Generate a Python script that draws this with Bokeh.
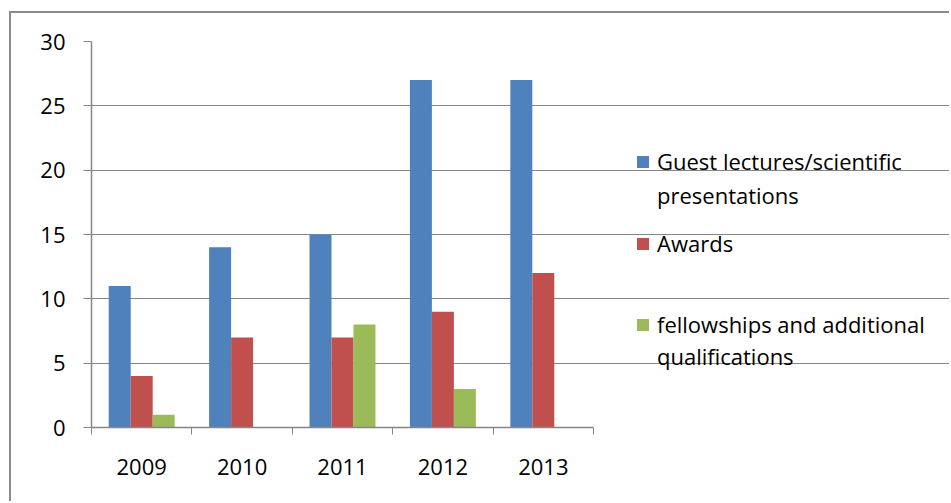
import numpy as np
from bokeh.plotting import figure
from bokeh.models import (Range1d, LinearAxis, FixedTicker, Legend, LegendItem,
                          ColumnDataSource)
from bokeh.transform import dodge
from bokeh.embed import file_html
from bokeh.resources import INLINE

years = ["2009", "2010", "2011", "2012", "2013"]
guest = [11, 14, 15, 27, 27]
awards = [4, 7, 7, 9, 12]
fellow = [1, 0, 8, 3, 0]
series_lines = [["Guest lectures/scientific", "presentations"], ["Awards"],
                ["fellowships and additional", "qualifications"]]
colors = ["#4F81BD", "#C0504D", "#9BBB59"]
y_ticks = [0, 5, 10, 15, 20, 25, 30]

FONT = "Open Sans"
FS = "22px"
GRAY = "#868686"

n = len(years)
centers = (np.arange(n) + 0.5).tolist()
src = ColumnDataSource(dict(xc=centers, guest=guest, awards=awards, fellow=fellow))

# the frame also spans the legend area; axes and grid are bounded to the category span
PLOT_W, FRAME_W = 502, 858
p = figure(frame_width=FRAME_W, frame_height=386, x_range=Range1d(0, n * FRAME_W / PLOT_W),
           y_range=Range1d(0, 30), output_backend="svg", toolbar_location=None,
           min_border_left=80, min_border_right=0, min_border_top=28, min_border_bottom=74,
           x_axis_location=None, y_axis_location=None,
           styles={"border-left": "2px solid #8C8C8C", "border-top": "2px solid #8C8C8C",
                   "margin-left": "9px", "margin-top": "11px"})
p.outline_line_color = None
p.xgrid.visible = False

bw = 0.219
rs = []
for field, off, c in zip(["guest", "awards", "fellow"], [-bw, 0, bw], colors):
    r = p.vbar(x=dodge("xc", off), top=field, width=bw, source=src,
               fill_color=c, line_color=None)
    rs.append(r)

# y axis
yax = LinearAxis(ticker=FixedTicker(ticks=y_ticks))
yax.axis_line_color = GRAY
yax.axis_line_width = 1.5
yax.major_tick_line_color = GRAY
yax.major_tick_out = 8
yax.major_tick_in = 0
yax.minor_tick_line_color = None
yax.major_label_standoff = 18
yax.major_label_text_font = FONT
yax.major_label_text_font_size = FS
yax.major_label_text_color = "#000000"
p.add_layout(yax, "left")
p.ygrid.ticker = FixedTicker(ticks=y_ticks)
p.ygrid.grid_line_color = GRAY
p.ygrid.grid_line_width = 1
p.ygrid.bounds = (0, n)

# x tick axis (category boundaries)
bounds = list(range(n + 1))
xt = LinearAxis(ticker=FixedTicker(ticks=bounds), bounds=(0, n),
                major_label_overrides={b: "" for b in bounds})
xt.axis_line_color = GRAY
xt.axis_line_width = 1.5
xt.major_tick_line_color = GRAY
xt.major_tick_out = 7
xt.major_tick_in = 0
xt.minor_tick_line_color = None
xt.major_label_standoff = 0
p.add_layout(xt, "below")

# x label axis (category names at centers)
xl = LinearAxis(ticker=FixedTicker(ticks=centers),
                major_label_overrides={c: y for c, y in zip(centers, years)})
xl.axis_line_color = None
xl.major_tick_line_color = None
xl.minor_tick_line_color = None
xl.major_tick_out = 0
xl.major_label_standoff = 24
xl.major_label_text_font = FONT
xl.major_label_text_font_size = FS
xl.major_label_text_color = "#000000"
p.add_layout(xl, "below")

# legend: one block per text line, glyph on the first line of each entry
blank = p.vbar(x=[], top=[], width=bw, fill_alpha=0, line_alpha=0)
row_y = [264, 230, 182, 101, 69]  # offsets of each legend line above the frame bottom
k = 0
for lines, r in zip(series_lines, rs):
    for j, line in enumerate(lines):
        lg = Legend(items=[LegendItem(label=line, renderers=[r if j == 0 else blank])],
                    location=(544, row_y[k] - 13))
        lg.label_text_font = FONT
        lg.label_text_font_size = FS
        lg.label_text_color = "#000000"
        lg.glyph_width = 15
        lg.glyph_height = 15
        lg.label_standoff = 7
        lg.padding = 0
        lg.margin = 0
        lg.border_line_color = None
        lg.background_fill_alpha = 0
        p.add_layout(lg)
        k += 1

open("out.html", "w").write(file_html(p, INLINE))
